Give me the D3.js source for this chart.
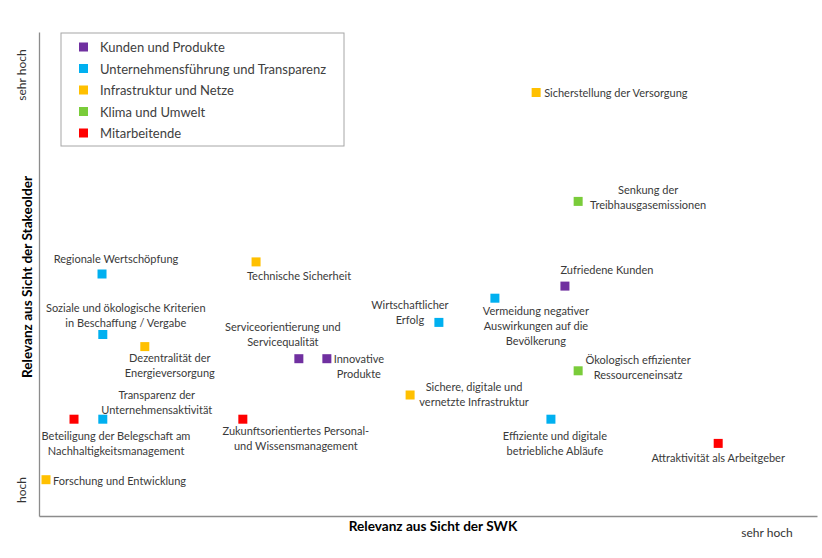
<!DOCTYPE html>
<html>
<head>
<meta charset="utf-8">
<script src="https://cdn.jsdelivr.net/npm/d3@7"></script>
<style>
  body { margin: 0; background: #fff; }
  text { font-family: Lato, "Open Sans", sans-serif; }
</style>
</head>
<body>
<div class="canvas"></div>
<script>
// Categories (legend order) and their colours
const categories = ['Kunden und Produkte', 'Unternehmensführung und Transparenz', 'Infrastruktur und Netze', 'Klima und Umwelt', 'Mitarbeitende'];
const catColors = ['#7030A0', '#00B0F0', '#FFC000', '#7ACC3A', '#FF0000'];

// Topics: name (label lines), category index, relevance SWK (x), relevance stakeholder (y)
const topics = [
  ['Sicherstellung der Versorgung'],
  ['Senkung der', 'Treibhausgasemissionen'],
  ['Zufriedene Kunden'],
  ['Regionale Wertschöpfung'],
  ['Technische Sicherheit'],
  ['Vermeidung negativer', 'Auswirkungen auf die', 'Bevölkerung'],
  ['Wirtschaftlicher', 'Erfolg'],
  ['Soziale und ökologische Kriterien', 'in Beschaffung / Vergabe'],
  ['Dezentralität der', 'Energieversorgung'],
  ['Serviceorientierung und', 'Servicequalität'],
  ['Innovative', 'Produkte'],
  ['Ökologisch effizienter', 'Ressourceneinsatz'],
  ['Sichere, digitale und', 'vernetzte Infrastruktur'],
  ['Transparenz der', 'Unternehmensaktivität'],
  ['Beteiligung der Belegschaft am', 'Nachhaltigkeitsmanagement'],
  ['Zukunftsorientiertes Personal-', 'und Wissensmanagement'],
  ['Effiziente und digitale', 'betriebliche Abläufe'],
  ['Attraktivität als Arbeitgeber'],
  ['Forschung und Entwicklung']
];
const topicCat = [2, 3, 0, 1, 2, 1, 1, 1, 2, 0, 0, 3, 2, 1, 4, 4, 1, 4, 2];
const relevanceSWK = [63.9, 69.3, 67.6, 8.1, 27.9, 58.6, 51.4, 8.2, 13.6, 33.4, 37.0, 69.3, 47.7, 8.2, 4.5, 26.2, 65.8, 87.3, 0.9];
const relevanceStake = [87.5, 65, 47.5, 50, 52.5, 45, 40, 37.5, 35, 32.5, 32.5, 30, 25, 20, 20, 20, 20, 15, 7.5];

// Label placement relative to the marker: [anchor, dx, dy of first baseline]
const labelPlace = [
  ['start', 8, 4], ['middle', 70, -7], ['middle', 42, -12], ['middle', 14, -11],
  ['middle', 43, 18], ['middle', 41, 17], ['middle', -29, -13], ['middle', 23, -23],
  ['middle', 25, 15], ['middle', -16, -28], ['middle', 32, 4], ['middle', 60, -7],
  ['middle', 64, -4], ['middle', 54, -20], ['middle', 42, 21], ['middle', 53, 16],
  ['middle', 4, 21], ['middle', 0, 19], ['start', 7, 5]
];

const svgWidth = 822, svgHeight = 558;
const plot = {left: 39, right: 817, top: 32, bottom: 516};
const lineH = 15;
const mark = 9;

const svg = d3.select('.canvas').append('svg')
  .attr('width', svgWidth).attr('height', svgHeight)
  .style('background-color', 'white');

const xScale = d3.scaleLinear().domain([0, 100]).range([plot.left, plot.right]);
const yScale = d3.scaleLinear().domain([0, 100]).range([plot.bottom, plot.top]);

// Axes (lines only, no ticks)
svg.append('g')
  .attr('transform', 'translate(0,' + plot.bottom + ')')
  .call(d3.axisBottom(xScale).tickValues([]).tickSizeOuter(0))
  .select('path').attr('stroke', '#8c8c8c').attr('stroke-width', 1.3);
svg.append('g')
  .attr('transform', 'translate(' + plot.left + ',0)')
  .call(d3.axisLeft(yScale).tickValues([]).tickSizeOuter(0))
  .select('path').attr('stroke', '#8c8c8c').attr('stroke-width', 1.3);

// Axis titles
svg.append('text')
  .attr('x', 433).attr('y', 531)
  .attr('text-anchor', 'middle').attr('font-size', 13.6).attr('font-weight', 'bold')
  .attr('fill', '#000')
  .text('Relevanz aus Sicht der SWK');
svg.append('text')
  .attr('transform', 'translate(32,277)rotate(-90)')
  .attr('text-anchor', 'middle').attr('font-size', 13.6).attr('font-weight', 'bold')
  .attr('fill', '#000')
  .text('Relevanz aus Sicht der Stakeolder');
svg.append('text')
  .attr('transform', 'translate(26,75)rotate(-90)')
  .attr('text-anchor', 'middle').attr('font-size', 12).attr('fill', '#333')
  .text('sehr hoch');
svg.append('text')
  .attr('transform', 'translate(26,490)rotate(-90)')
  .attr('text-anchor', 'middle').attr('font-size', 12).attr('fill', '#333')
  .text('hoch');
svg.append('text')
  .attr('x', 767).attr('y', 537)
  .attr('text-anchor', 'middle').attr('font-size', 12).attr('fill', '#333')
  .text('sehr hoch');

// Points
const pts = svg.selectAll('g.pt')
  .data(topics.map((t, i) => ({lines: t, cat: topicCat[i], x: relevanceSWK[i], y: relevanceStake[i], place: labelPlace[i]})))
  .enter().append('g').attr('class', 'pt');

pts.append('rect')
  .attr('x', d => xScale(d.x) - mark / 2)
  .attr('y', d => yScale(d.y) - mark / 2)
  .attr('width', mark).attr('height', mark)
  .attr('fill', d => catColors[d.cat]);

pts.append('text')
  .attr('x', d => xScale(d.x) + d.place[1])
  .attr('y', d => yScale(d.y) + d.place[2])
  .attr('text-anchor', d => d.place[0])
  .attr('font-size', 11).attr('fill', '#3a3a3a')
  .selectAll('tspan')
  .data(d => d.lines.map(l => ({l, d})))
  .enter().append('tspan')
  .attr('x', e => xScale(e.d.x) + e.d.place[1])
  .attr('dy', (e, i) => i === 0 ? 0 : lineH)
  .text(e => e.l);

// Legend
const legend = svg.append('g').attr('transform', 'translate(61,33)');
legend.append('rect')
  .attr('width', 283).attr('height', 113)
  .attr('fill', 'white').attr('stroke', '#a6a6a6').attr('stroke-width', 1);
const items = legend.selectAll('g.item')
  .data(categories).enter().append('g')
  .attr('transform', (d, i) => 'translate(0,' + (14 + i * 21.5) + ')');
items.append('rect')
  .attr('x', 18).attr('y', -4.5).attr('width', 9).attr('height', 9)
  .attr('fill', (d, i) => catColors[i]);
items.append('text')
  .attr('x', 39).attr('y', 5)
  .attr('font-size', 13).attr('fill', '#404040')
  .text(d => d);
</script>
</body>
</html>
